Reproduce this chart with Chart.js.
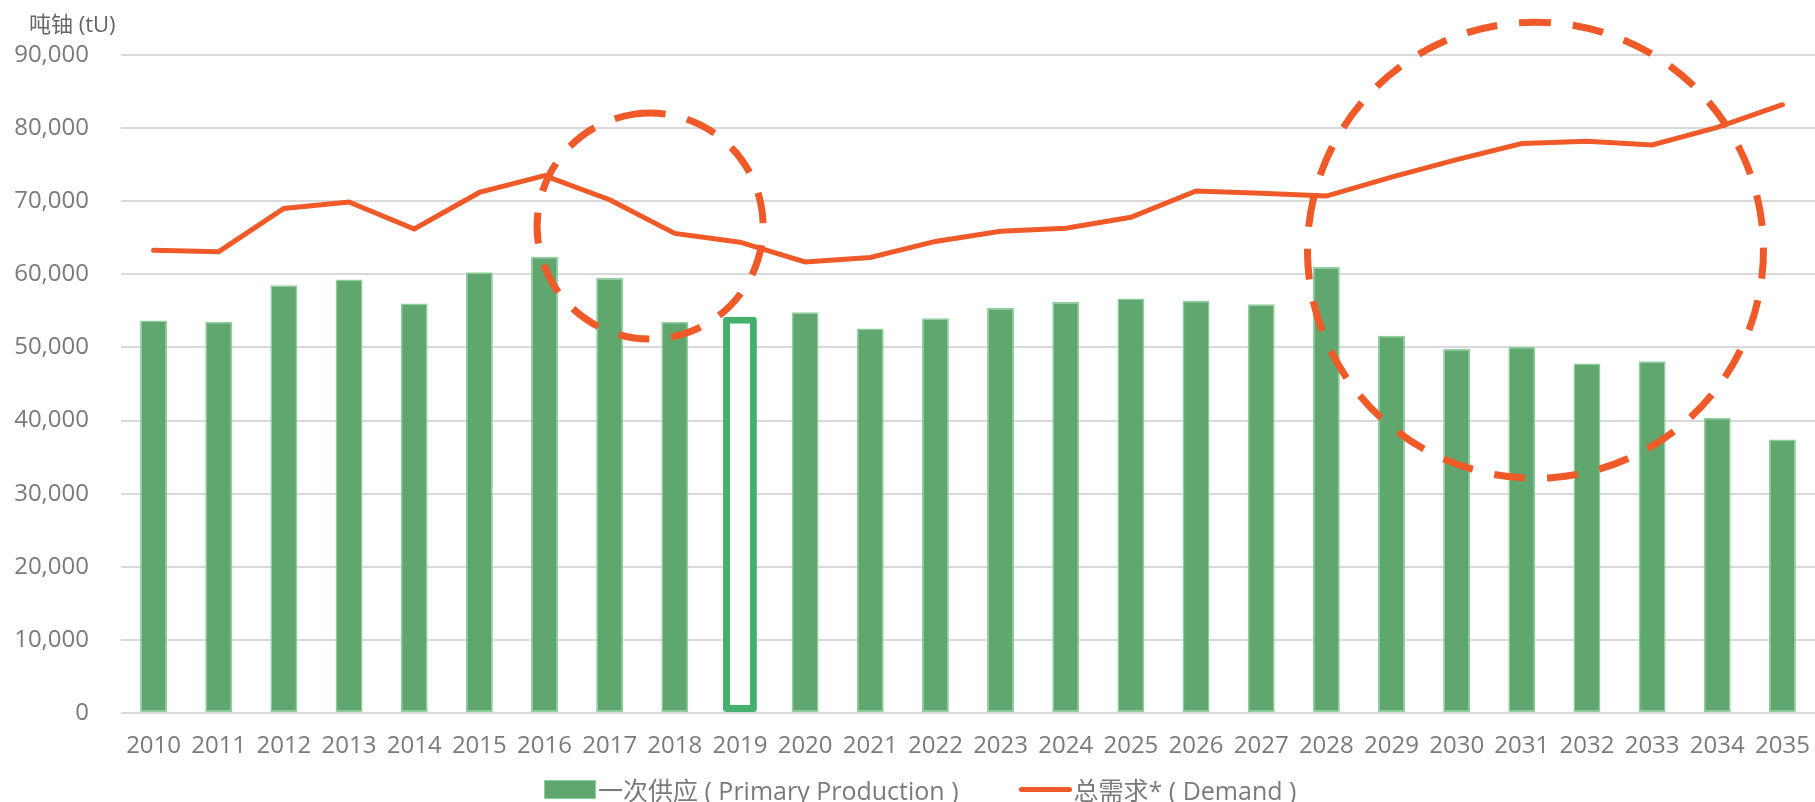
<!doctype html>
<html lang="zh">

<head>
  <meta charset="utf-8">
  <title>uranium supply and demand</title>
  <meta name="viewport" content="width=device-width, initial-scale=1">

  <style>
    html, body {
      margin: 0;
      padding: 0;
      background: #fff;
    }
    #wrap {
      position: relative;
      width: 1815px;
      height: 802px;
    }
    #chart {
      display: block;
    }
    #unit {
      position: absolute;
      left: 29px;
      top: 9px;
      font: 22px "Open Sans", "Noto Sans CJK SC", sans-serif;
      line-height: 28px;
      color: #666;
      white-space: nowrap;
    }
    #legend {
      position: absolute;
      left: 544px;
      top: 775px;
      height: 28px;
      display: flex;
      align-items: center;
      font: 25px "Open Sans", "Noto Sans CJK SC", sans-serif;
      color: #7a7a7a;
      white-space: nowrap;
    }
    .item {
      display: flex;
      align-items: center;
      margin-right: 60px;
    }
    .swatch {
      box-sizing: border-box;
      margin-right: 2px;
    }
  </style>
</head>

<body>
  <div id="wrap">
    <canvas id="chart" width="1815" height="802"></canvas>
    <div id="unit">吨铀 (tU)</div>
    <div id="legend"></div>
  </div>

  <script src="https://cdn.jsdelivr.net/npm/chart.js@4/dist/chart.umd.min.js"></script>
  <script>

  const years = ['2010', '2011', '2012', '2013', '2014', '2015', '2016', '2017', '2018', '2019',
                 '2020', '2021', '2022', '2023', '2024', '2025', '2026', '2027', '2028', '2029',
                 '2030', '2031', '2032', '2033', '2034', '2035'];

  // 一次供应 (tU)
  const primaryProduction = [53700, 53500, 58500, 59300, 56000, 60300, 62400, 59500, 53500, 54200,
                             54800, 52600, 54000, 55400, 56200, 56700, 56400, 55900, 61000, 51600,
                             49800, 50100, 47800, 48100, 40400, 37400];

  // 总需求 (tU)
  const totalDemand = [63300, 63100, 69000, 69900, 66200, 71200, 73500, 70200, 65600, 64400,
                       61700, 62300, 64500, 65900, 66300, 67800, 71400, 71100, 70700, 73300,
                       75700, 77900, 78200, 77700, 80100, 83200];

  const yMin = 0;
  const yMax = 90000;
  const yStep = 10000;

  const highlightYear = '2019';

  // dashed circles, centre in (category index, tU), radius in px
  const circles = [
    { x: 7.62, y: 66600, r: 113 },
    { x: 21.21, y: 63300, r: 228 },
  ];

  const green = '#60a76f';
  const greenEdge = '#8fcf9d';
  const orange = '#f05a28';
  const tickColor = '#7a7a7a';
  const tickFont = { family: '"Open Sans", "Noto Sans CJK SC", sans-serif', size: 24 };

  const circlePlugin = {
    id: 'circles',
    afterDatasetsDraw(chart) {
      const { ctx, scales: { x, y } } = chart;
      ctx.save();
      ctx.strokeStyle = orange;
      ctx.lineWidth = 7;
      ctx.setLineDash([31, 22]);
      circles.forEach(c => {
        const cx = x.getPixelForValue(c.x);
        const cy = y.getPixelForValue(c.y);
        const start = -Math.PI / 2 - 15.5 / c.r;
        ctx.beginPath();
        ctx.arc(cx, cy, c.r, start, start + Math.PI * 2);
        ctx.stroke();
      });
      ctx.restore();
    }
  };

  const barData = primaryProduction.map((v, i) => years[i] === highlightYear ? null : v);
  const highlightData = primaryProduction.map((v, i) => years[i] === highlightYear ? v : null);

  const chart = new Chart(document.getElementById('chart'), {
    type: 'bar',
    data: {
      labels: years,
      datasets: [
        {
          type: 'line',
          label: '总需求* ( Demand )',
          data: totalDemand,
          borderColor: orange,
          backgroundColor: orange,
          borderWidth: 5,
          borderCapStyle: 'round',
          borderJoinStyle: 'miter',
          pointRadius: 0,
          tension: 0,
          order: 0,
        },
        {
          label: 'highlight',
          data: highlightData,
          backgroundColor: '#fff',
          borderColor: '#45b06e',
          borderWidth: 7,
          borderRadius: 3,
          borderSkipped: false,
          barPercentage: 0.52,
          categoryPercentage: 1,
          grouped: false,
          order: 1,
        },
        {
          label: '一次供应 ( Primary Production )',
          data: barData,
          backgroundColor: green,
          borderColor: greenEdge,
          borderWidth: 1.5,
          borderSkipped: false,
          barPercentage: 0.414,
          categoryPercentage: 1,
          grouped: false,
          order: 2,
        },
      ],
    },
    options: {
      responsive: false,
      animation: false,
      layout: { padding: { top: 55, right: 0, bottom: 0, left: 0 } },
      plugins: {
        legend: { display: false },
        tooltip: { enabled: false },
      },
      scales: {
        x: {
          grid: { display: false, drawTicks: false },
          border: { display: false },
          ticks: { color: tickColor, font: tickFont, padding: 19, autoSkip: false, maxRotation: 0 },
          afterFit: s => {
            s.height = 89;
            s.paddingLeft = 0;
            s.paddingRight = 0;
          },
        },
        y: {
          min: yMin,
          max: yMax,
          grid: { color: '#d9d9d9', lineWidth: 2, drawTicks: false },
          border: { display: false },
          ticks: {
            stepSize: yStep,
            color: tickColor,
            font: tickFont,
            padding: 32,
            callback: v => v.toLocaleString('en-US'),
          },
          afterFit: s => { s.width = 121; },
        },
      },
    },
    plugins: [circlePlugin],
  });

  // legend in the page, built from the datasets
  const legend = document.getElementById('legend');
  [2, 0].forEach(i => {
    const ds = chart.data.datasets[i];
    const item = document.createElement('span');
    item.className = 'item';
    const sw = document.createElement('span');
    sw.className = 'swatch';
    if (ds.type === 'line') {
      sw.style.width = '53px';
      sw.style.height = ds.borderWidth + 'px';
      sw.style.borderRadius = '3px';
      sw.style.background = ds.borderColor;
    } else {
      sw.style.width = '52px';
      sw.style.height = '19px';
      sw.style.background = ds.backgroundColor;
      sw.style.border = ds.borderWidth + 'px solid ' + ds.borderColor;
    }
    const txt = document.createElement('span');
    txt.textContent = ds.label;
    item.appendChild(sw);
    item.appendChild(txt);
    legend.appendChild(item);
  });
  </script>

</body>
</html>
